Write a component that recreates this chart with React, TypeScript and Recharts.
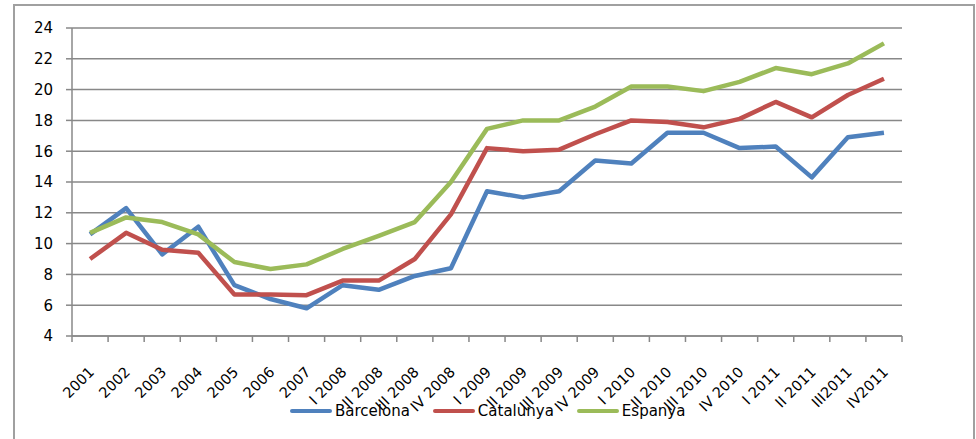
import React from 'react';
import { LineChart, Line, XAxis, YAxis, CartesianGrid } from 'recharts';

const periods = [
  '2001', '2002', '2003', '2004', '2005', '2006', '2007',
  'I 2008', 'II 2008', 'III 2008', 'IV 2008',
  'I 2009', 'II 2009', 'III 2009', 'IV 2009',
  'I 2010', 'II 2010', 'III 2010', 'IV 2010',
  'I 2011', 'II 2011', 'III2011', 'IV2011',
];

const barcelona = [10.6, 12.3, 9.3, 11.1, 7.3, 6.4, 5.8, 7.3, 7.0, 7.9, 8.4, 13.4, 13.0, 13.4, 15.4, 15.2, 17.2, 17.2, 16.2, 16.3, 14.3, 16.9, 17.2];
const catalunya = [9.0, 10.7, 9.6, 9.4, 6.7, 6.7, 6.65, 7.6, 7.6, 9.0, 11.9, 16.2, 16.0, 16.1, 17.1, 18.0, 17.9, 17.55, 18.1, 19.2, 18.2, 19.65, 20.7];
const espanya = [10.7, 11.7, 11.4, 10.6, 8.8, 8.35, 8.65, 9.65, 10.5, 11.4, 14.0, 17.45, 18.0, 18.0, 18.9, 20.2, 20.2, 19.9, 20.5, 21.4, 21.0, 21.7, 23.0];

const yTicks = [4, 6, 8, 10, 12, 14, 16, 18, 20, 22, 24];

const data = periods.map((p, i) => ({
  name: p,
  Barcelona: barcelona[i],
  Catalunya: catalunya[i],
  Espanya: espanya[i],
}));

const series = [
  { key: 'Barcelona', color: '#4f81bd' },
  { key: 'Catalunya', color: '#c0504d' },
  { key: 'Espanya', color: '#9bbb59' },
];

const font = '"DejaVu Sans", sans-serif';
const gridColor = '#888888';

const chartW = 976;
const chartH = 439;
const margin = { top: 28, right: 74, bottom: 73, left: 0 };
const yAxisW = 72;
const plotW = chartW - margin.left - margin.right - yAxisW;
const step = plotW / periods.length;

// label plus the Excel-style tick mark on the left edge of each category
const XTick = (props: any) => {
  const { x, y, payload, index } = props;
  const ax = x + 5;
  const ay = y + 37;
  const left = x - step / 2;
  const right = x + step / 2;
  return (
    <g>
      <line x1={left} x2={left} y1={y} y2={y + 6} stroke={gridColor} strokeWidth={1.5} />
      {index === periods.length - 1 && (
        <line x1={right} x2={right} y1={y} y2={y + 6} stroke={gridColor} strokeWidth={1.5} />
      )}
      <text x={ax} y={ay} transform={`rotate(-45 ${ax} ${ay})`} textAnchor="end" fontSize={14.5} fontFamily={font} fill="#000">
        {payload.value}
      </text>
    </g>
  );
};

const App: React.FC = () => {
  return (
    <div style={{ position: 'fixed', left: 0, top: 0, width: chartW, height: chartH, background: '#fff', overflow: 'hidden' }}>
      <div style={{ position: 'absolute', left: 13, top: 4, width: 958, height: 460, border: '2px solid #a0a0a0' }} />
      <LineChart width={chartW} height={chartH} data={data} margin={margin}>
        <CartesianGrid vertical={false} stroke={gridColor} strokeWidth={1.5} />
        <XAxis
          dataKey="name"
          interval={0}
          height={30}
          padding={{ left: step / 2, right: step / 2 }}
          axisLine={{ stroke: gridColor, strokeWidth: 1.5 }}
          tickLine={false}
          tickSize={0}
          tickMargin={0}
          tick={<XTick />}
        />
        <YAxis
          width={yAxisW}
          domain={[4, 24]}
          ticks={yTicks}
          interval={0}
          axisLine={{ stroke: gridColor, strokeWidth: 1.5 }}
          tickLine={{ stroke: gridColor, strokeWidth: 1.5 }}
          tickSize={6}
          tickMargin={13}
          tick={{ fontSize: 15, fontFamily: font, fill: '#000' }}
        />
        {series.map((s) => (
          <Line
            key={s.key}
            dataKey={s.key}
            type="linear"
            stroke={s.color}
            strokeWidth={4.5}
            strokeLinejoin="round"
            dot={false}
            isAnimationActive={false}
          />
        ))}
      </LineChart>
      <div style={{ position: 'absolute', left: 290, top: 402, display: 'flex', alignItems: 'center', fontFamily: font, fontSize: 15, color: '#000' }}>
        {series.map((s, i) => (
          <div key={s.key} style={{ display: 'flex', alignItems: 'center', marginLeft: i === 0 ? 0 : 23 }}>
            <span style={{ display: 'inline-block', width: 42, height: 4.5, borderRadius: 3, background: s.color, marginRight: 3 }} />
            <span>{s.key}</span>
          </div>
        ))}
      </div>
    </div>
  );
};

export default App;
